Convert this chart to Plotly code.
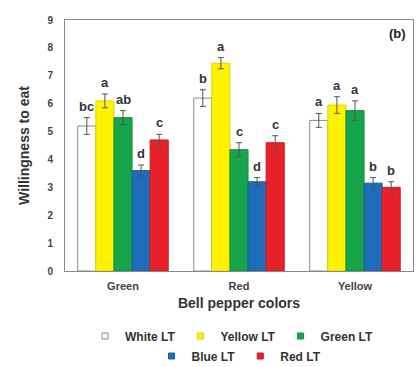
import plotly.graph_objects as go

categories = ["Green", "Red", "Yellow"]
series_names = ["White LT", "Yellow LT", "Green LT", "Blue LT", "Red LT"]
white_lt = [5.2, 6.2, 5.4]
yellow_lt = [6.1, 7.45, 5.95]
green_lt = [5.5, 4.35, 5.75]
blue_lt = [3.6, 3.2, 3.15]
red_lt = [4.7, 4.6, 3.0]
white_err = [0.3, 0.3, 0.25]
yellow_err = [0.25, 0.2, 0.3]
green_err = [0.25, 0.25, 0.35]
blue_err = [0.2, 0.15, 0.2]
red_err = [0.2, 0.25, 0.2]
white_letters = ["bc", "b", "a"]
yellow_letters = ["a", "a", "a"]
green_letters = ["ab", "c", "a"]
blue_letters = ["d", "d", "b"]
red_letters = ["c", "c", "b"]
y_ticks = [0, 1, 2, 3, 4, 5, 6, 7, 8, 9]

values = [white_lt, yellow_lt, green_lt, blue_lt, red_lt]
errors = [white_err, yellow_err, green_err, blue_err, red_err]
letters = [white_letters, yellow_letters, green_letters, blue_letters, red_letters]
fills = ["#ffffff", "#fff200", "#17a54b", "#1f6cb9", "#e8202a"]
outlines = ["#8a8a8a", "#e0d400", "#12923f", "#1a5fa3", "#cc1b24"]
legend_rows = ["legend", "legend", "legend", "legend2", "legend2"]

FONT = "Liberation Sans"
fig = go.Figure()
for name, v, e, f, o in zip(series_names, values, errors, fills, outlines):
    fig.add_trace(go.Bar(
        name=name, x=categories, y=v, showlegend=False,
        marker=dict(color=f, line=dict(color=o, width=1)),
        error_y=dict(type="data", array=e, color="#555555", thickness=1, width=3),
    ))
# legend-only entries with small square symbols
for name, f, o, lg in zip(series_names, fills, outlines, legend_rows):
    fig.add_trace(go.Scatter(
        name=name, x=[None], y=[None], mode="markers", legend=lg,
        marker=dict(symbol="square", size=6, color=f, line=dict(color=o, width=1)),
    ))

bargap = 0.22
n = len(series_names)
bw = (1 - bargap) / n
annotations = []
for i, (v, e, lab) in enumerate(zip(values, errors, letters)):
    off = -(1 - bargap) / 2 + (i + 0.5) * bw
    for j in range(len(categories)):
        annotations.append(dict(
            x=j + off, y=v[j] + e[j], xref="x", yref="y", text="<b>%s</b>" % lab[j],
            showarrow=False, yanchor="bottom", yshift=2,
            font=dict(family=FONT, size=13, color="#333333"),
        ))
annotations.append(dict(
    x=0.985, y=0.985, xref="paper", yref="paper", text="<b>(b)</b>", showarrow=False,
    xanchor="right", yanchor="top", font=dict(family=FONT, size=13, color="#222222"),
))

legfont = dict(family=FONT, size=12, color="#333333", weight="bold")
fig.update_layout(
    width=420, height=367,
    margin=dict(l=65, r=7, t=20, b=96),
    paper_bgcolor="white", plot_bgcolor="white",
    barmode="group", bargap=bargap, bargroupgap=0,
    font=dict(family=FONT, size=11, color="#333333"),
    annotations=annotations,
    showlegend=True,
    legend=dict(orientation="h", x=0.48, xanchor="center", xref="paper",
                y=1 - 336 / 367, yanchor="middle", yref="container",
                font=legfont, traceorder="normal", itemwidth=30, bgcolor="rgba(0,0,0,0)"),
    legend2=dict(orientation="h", x=0.5, xanchor="center", xref="paper",
                 y=1 - 356 / 367, yanchor="middle", yref="container",
                 font=legfont, traceorder="normal", itemwidth=30, bgcolor="rgba(0,0,0,0)"),
    xaxis=dict(
        showline=True, linecolor="#888888", linewidth=1, mirror=True,
        ticks="", ticklabelstandoff=5, tickfont=dict(family=FONT, size=11, color="#444444"),
        title=dict(text="<b>Bell pepper colors</b>", font=dict(family=FONT, size=14, color="#333333"), standoff=6),
    ),
    yaxis=dict(
        range=[0, 9], tickvals=y_ticks, ticktext=["<b>%d</b>" % t for t in y_ticks],
        showline=True, linecolor="#888888", linewidth=1, mirror=True, showgrid=False,
        ticks="", ticklabelstandoff=9, zeroline=False, tickfont=dict(family=FONT, size=10, color="#444444"),
        title=dict(text="<b>Willingness to eat</b>", font=dict(family=FONT, size=14, color="#333333"), standoff=14),
    ),
)
fig.update_xaxes(tickprefix="<b>", ticksuffix="</b>")
fig.write_html("out.html", config={"displayModeBar": False},
               post_script="document.body.style.margin='0';")
